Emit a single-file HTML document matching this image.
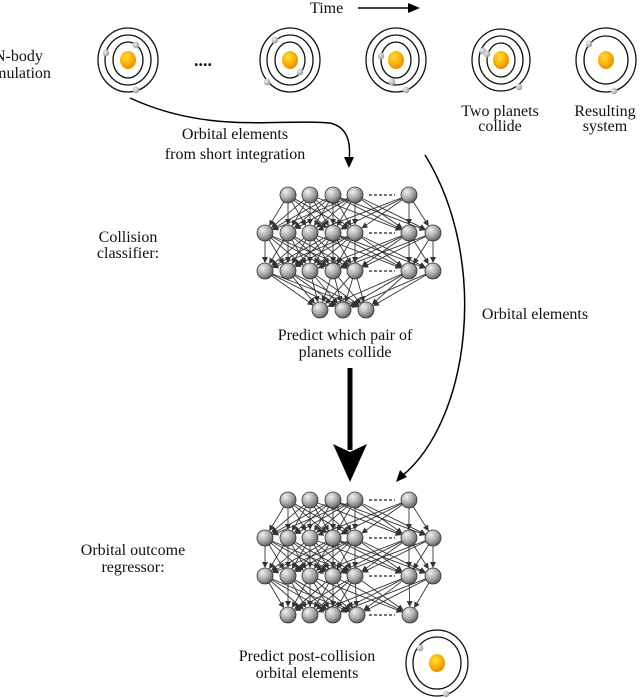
<!DOCTYPE html>
<html><head><meta charset="utf-8"><style>
html,body{margin:0;padding:0;background:#fff;width:640px;height:698px;overflow:hidden}
text{font-family:'Liberation Serif','DejaVu Serif',serif !important}
</style></head><body>
<svg id="s" width="640" height="698" viewBox="0 0 640 698" xmlns="http://www.w3.org/2000/svg">
<defs>
<radialGradient id="sun" cx="40%" cy="35%" r="65%"><stop offset="0" stop-color="#ffe040"/><stop offset="0.6" stop-color="#ffb000"/><stop offset="1" stop-color="#f08a00"/></radialGradient>
<radialGradient id="node" cx="35%" cy="30%" r="70%"><stop offset="0" stop-color="#f0f0f0"/><stop offset="0.6" stop-color="#a8a8a8"/><stop offset="1" stop-color="#666"/></radialGradient>
<radialGradient id="pl" cx="35%" cy="35%" r="70%"><stop offset="0" stop-color="#eee"/><stop offset="1" stop-color="#999"/></radialGradient>
<marker id="ah" markerWidth="6" markerHeight="6" refX="5" refY="3" orient="auto" markerUnits="userSpaceOnUse"><path d="M0,0 L6,3 L0,6 z" fill="#333"/></marker>
</defs>
<g fill="#111" style="font-family:'Liberation Serif','DejaVu Serif',serif;font-size:16px">
<text x="310" y="13">Time</text>
<text x="-6" y="61">N-body</text>
<text x="-6" y="78">mulation</text>
<text x="194" y="66" font-weight="bold" style="font-size:18px">....</text>
<text x="500" y="116" text-anchor="middle">Two planets</text>
<text x="500" y="131" text-anchor="middle">collide</text>
<text x="605" y="116" text-anchor="middle">Resulting</text>
<text x="605" y="131" text-anchor="middle">system</text>
<text x="235" y="139" text-anchor="middle">Orbital elements</text>
<text x="235" y="159" text-anchor="middle">from short integration</text>
<text x="128" y="242" text-anchor="middle">Collision</text>
<text x="128" y="258" text-anchor="middle">classifier:</text>
<text x="345" y="340" text-anchor="middle">Predict which pair of</text>
<text x="345" y="357" text-anchor="middle">planets collide</text>
<text x="535" y="319" text-anchor="middle">Orbital elements</text>
<text x="133" y="555" text-anchor="middle">Orbital outcome</text>
<text x="133" y="572" text-anchor="middle">regressor:</text>
<text x="307" y="661" text-anchor="middle">Predict post-collision</text>
<text x="307" y="678" text-anchor="middle">orbital elements</text>
</g>
<line x1="358" y1="8" x2="412" y2="8" stroke="#000" stroke-width="1.5"/>
<path d="M408,3 L420,8 L408,13 z" fill="#000"/>
<path d="M130,98 C210,135 280,118 330,123 C352,128 350,150 349,163" fill="none" stroke="#000" stroke-width="1.5"/>
<path d="M344,157 L349,168 L354,157 z" fill="#000"/>
<path d="M425,155 C490,260 470,420 402,476" fill="none" stroke="#000" stroke-width="1.5"/>
<path d="M400,470 L396,482 L407,477 z" fill="#000"/>
<line x1="350" y1="368" x2="350" y2="450" stroke="#000" stroke-width="5"/>
<path d="M333,444 L350,482 L367,444 L350,452 z" fill="#000"/>
<g id="g"></g>
</svg>
<script>
var g=document.getElementById('g'),NS='http://www.w3.org/2000/svg';
function el(t,a){var e=document.createElementNS(NS,t);for(var k in a)e.setAttribute(k,a[k]);g.appendChild(e);return e;}
function sys(cx,cy,orbs,pl){orbs.forEach(function(o){el('ellipse',{cx:cx,cy:cy,rx:o[0],ry:o[1],fill:'none',stroke:'#111','stroke-width':1.3});});
el('ellipse',{cx:cx,cy:cy,rx:8,ry:9,fill:'url(#sun)'});
pl.forEach(function(p){el('circle',{cx:p[0],cy:p[1],r:3.3,fill:'url(#pl)'});});}
var O3=[[30,32],[23,25],[15,18]];
sys(128,60,O3,[[106,53],[136,45],[136,90]]);
sys(290,60,O3,[[275,40],[300,72],[267,82]]);
sys(396,60,O3,[[381,56],[392,82],[406,90]]);
sys(501,60,[[29,31],[22,24],[14,17]],[[483,51],[487,54],[519,87]]);
sys(606,60,[[30,32],[22,24]],[[589,44],[614,91]]);
sys(437,663,[[31,33],[24,26]],[[420,648],[446,694]]);
function net(oy,outRow){
var A=[288,310,333,355,409],B=[265,288,310,333,355,409,433];
var rows=[[A,oy],[B,oy+38],[B,oy+76],[outRow,oy+115]];
for(var r=0;r<3;r++){var s=rows[r],t=rows[r+1];
s[0].forEach(function(x1,i){t[0].forEach(function(x2,j){if(Math.abs(x1-x2)>110)return;
var dx=x2-x1,dy=t[1]-s[1],L=Math.sqrt(dx*dx+dy*dy);
el('line',{x1:x1+dx/L*8,y1:s[1]+dy/L*8,x2:x2-dx/L*9,y2:t[1]-dy/L*9,stroke:'#333','stroke-width':0.9,'marker-end':'url(#ah)'});});});}
rows.forEach(function(rw){rw[0].forEach(function(x){el('circle',{cx:x,cy:rw[1],r:8,fill:'url(#node)',stroke:'#333','stroke-width':0.8});});
if(rw[0].length>3)el('line',{x1:369,y1:rw[1],x2:395,y2:rw[1],stroke:'#222','stroke-width':1.2,'stroke-dasharray':'3,2'});});}
net(195,[320,343,366]);
net(500,[288,310,333,357,410]);
</script>
</body></html>
